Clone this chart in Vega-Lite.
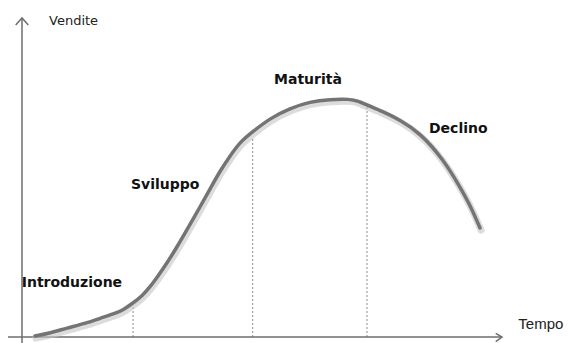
{
  "$schema": "https://vega.github.io/schema/vega-lite/v6.json",
  "width": 579,
  "height": 343,
  "padding": 0,
  "autosize": {"type": "none"},
  "background": "white",
  "config": {"view": {"stroke": null}},
  "datasets": {
    "curve": [
      {"x": 2.71, "y": 0.31},
      {"x": 5.83, "y": 1.25},
      {"x": 9.38, "y": 2.82},
      {"x": 13.13, "y": 4.23},
      {"x": 16.25, "y": 5.86},
      {"x": 19.38, "y": 7.37},
      {"x": 21.04, "y": 8.46},
      {"x": 23.13, "y": 10.66},
      {"x": 25.0, "y": 12.85},
      {"x": 26.67, "y": 15.67},
      {"x": 28.33, "y": 19.12},
      {"x": 30.21, "y": 23.2},
      {"x": 32.29, "y": 28.21},
      {"x": 34.58, "y": 34.17},
      {"x": 37.08, "y": 40.75},
      {"x": 39.17, "y": 46.39},
      {"x": 41.25, "y": 52.04},
      {"x": 43.33, "y": 56.74},
      {"x": 45.42, "y": 61.13},
      {"x": 48.06, "y": 64.36},
      {"x": 51.67, "y": 68.56},
      {"x": 55.83, "y": 71.69},
      {"x": 60.0, "y": 73.76},
      {"x": 64.17, "y": 74.51},
      {"x": 68.33, "y": 74.61},
      {"x": 70.0, "y": 73.98},
      {"x": 71.88, "y": 72.73},
      {"x": 75.21, "y": 70.63},
      {"x": 78.75, "y": 68.03},
      {"x": 82.92, "y": 63.95},
      {"x": 87.71, "y": 55.8},
      {"x": 91.25, "y": 47.02},
      {"x": 93.33, "y": 41.38},
      {"x": 95.42, "y": 34.17}
    ],
    "dividers": [
      {"x": 23.13, "y": 0, "y2": 10.0},
      {"x": 48.06, "y": 0, "y2": 62.38},
      {"x": 71.88, "y": 0, "y2": 72.73}
    ],
    "axes": [
      {"name": "y", "x": 0, "x2": 0, "y": -1.88, "y2": 100},
      {"name": "x", "x": -2.92, "x2": 100, "y": 0, "y2": 0}
    ],
    "arrows": [
      {"arrow": "y", "ord": 1, "x": -1.31, "y": 97.81},
      {"arrow": "y", "ord": 2, "x": 0, "y": 100},
      {"arrow": "y", "ord": 3, "x": 1.31, "y": 97.81},
      {"arrow": "x", "ord": 1, "x": 98.69, "y": 1.16},
      {"arrow": "x", "ord": 2, "x": 100, "y": 0},
      {"arrow": "x", "ord": 3, "x": 98.69, "y": -1.47}
    ],
    "stages": [
      {"label": "Introduzione", "x": -0.06, "y": 15.83},
      {"label": "Sviluppo", "x": 22.71, "y": 46.55},
      {"label": "Maturità", "x": 52.5, "y": 79.3},
      {"label": "Declino", "x": 84.79, "y": 63.86}
    ],
    "axislabels": [
      {"label": "Vendite", "x": 5.63, "y": 97.81},
      {"label": "Tempo", "x": 103.4, "y": 2.41}
    ]
  },
  "encoding": {
    "x": {"field": "x", "type": "quantitative", "scale": {"domain": [-4.583, 116.04], "nice": false, "zero": false}, "axis": null},
    "y": {"field": "y", "type": "quantitative", "scale": {"domain": [-1.88, 105.64], "nice": false, "zero": false}, "axis": null}
  },
  "layer": [
    {
      "data": {"name": "dividers"},
      "mark": {"type": "rule", "color": "#8a8a8a", "strokeWidth": 1, "strokeDash": [2, 2]},
      "encoding": {
        "y2": {"field": "y2"}
      }
    },
    {
      "data": {"name": "axes"},
      "mark": {"type": "rule", "color": "#6e6e6e", "strokeWidth": 1.5},
      "encoding": {
        "x2": {"field": "x2"},
        "y2": {"field": "y2"}
      }
    },
    {
      "data": {"name": "arrows"},
      "mark": {"type": "line", "color": "#6e6e6e", "strokeWidth": 1.5},
      "encoding": {
        "detail": {"field": "arrow"},
        "order": {"field": "ord"}
      }
    },
    {
      "data": {"name": "curve"},
      "mark": {"type": "line", "color": "#c4c4c4", "strokeWidth": 7, "opacity": 0.6, "interpolate": "basis", "strokeCap": "round", "xOffset": 1, "yOffset": 2},
      "encoding": {}
    },
    {
      "data": {"name": "curve"},
      "mark": {"type": "line", "color": "#747474", "strokeWidth": 3.5, "interpolate": "basis", "strokeCap": "round"},
      "encoding": {}
    },
    {
      "data": {"name": "stages"},
      "mark": {"type": "text", "align": "left", "baseline": "alphabetic", "font": "DejaVu Sans", "fontWeight": "bold", "fontSize": 14, "color": "#111111"},
      "encoding": {
        "text": {"field": "label"}
      }
    },
    {
      "data": {"name": "axislabels"},
      "transform": [{"filter": "datum.label == 'Vendite'"}],
      "mark": {"type": "text", "align": "left", "baseline": "alphabetic", "font": "DejaVu Sans", "fontSize": 13, "color": "#222222"},
      "encoding": {
        "text": {"field": "label"}
      }
    },
    {
      "data": {"name": "axislabels"},
      "transform": [{"filter": "datum.label == 'Tempo'"}],
      "mark": {"type": "text", "align": "left", "baseline": "alphabetic", "font": "Liberation Sans", "fontSize": 15, "color": "#222222"},
      "encoding": {
        "text": {"field": "label"}
      }
    }
  ]
}
